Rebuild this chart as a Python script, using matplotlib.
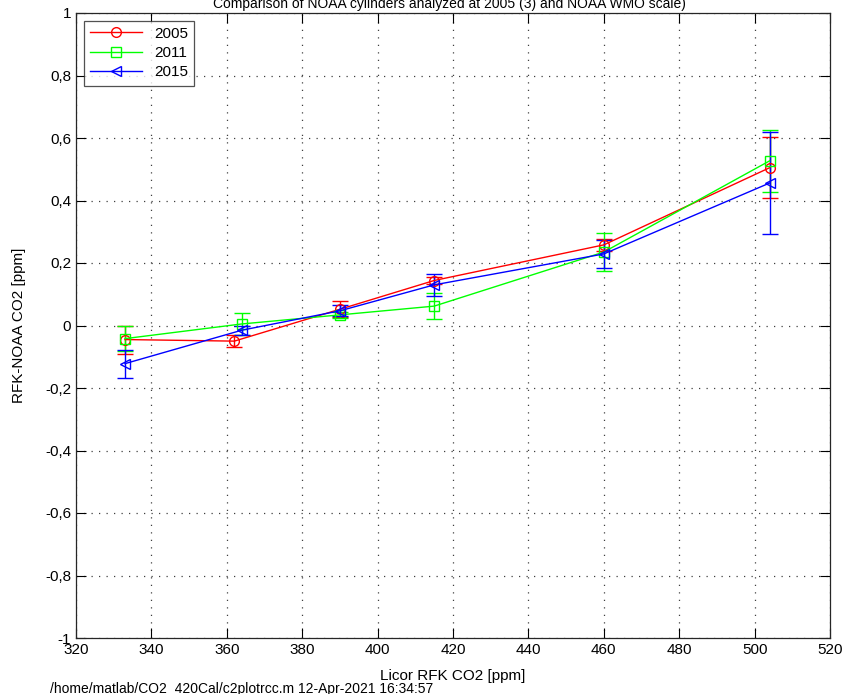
import numpy as np
import matplotlib
matplotlib.use('Agg')
import matplotlib.pyplot as plt

# values
anos = ['2005', '2011', '2015']
cores = ['#ff0000', '#00ff00', '#0000ff']
marcadores = ['o', 's', '<']

x_2005 = [333, 362, 390, 415, 460, 504]
y_2005 = [-0.045, -0.050, 0.052, 0.144, 0.258, 0.505]
e_2005 = [0.045, 0.020, 0.025, 0.010, 0.020, 0.097]

x_2011 = [333, 364, 390, 415, 460, 504]
y_2011 = [-0.042, 0.005, 0.034, 0.062, 0.235, 0.527]
e_2011 = [0.040, 0.035, 0.010, 0.042, 0.060, 0.100]

x_2015 = [333, 364, 390, 415, 460, 504]
y_2015 = [-0.122, -0.015, 0.047, 0.130, 0.229, 0.456]
e_2015 = [0.045, 0.015, 0.018, 0.035, 0.045, 0.163]

xticks = np.arange(320, 521, 20)
yticks = np.round(np.arange(-1, 1.01, 0.2), 1) + 0.0
ylabels = [('%g' % v).replace('.', ',') if abs(v) > 1e-9 else '0' for v in yticks]

plt.rcParams['font.family'] = ['Liberation Sans', 'DejaVu Sans']

fig = plt.figure(figsize=(8.43, 6.94), dpi=100)
ax = fig.add_axes([76 / 843, 56 / 694, 754 / 843, 625 / 694])

series = [(x_2005, y_2005, e_2005), (x_2011, y_2011, e_2011), (x_2015, y_2015, e_2015)]
for (xs, ys, es), ano, cor, m in zip(series, anos, cores, marcadores):
    ax.errorbar(xs, ys, yerr=es, color=cor, linewidth=1.0, elinewidth=1.0,
                capsize=6, capthick=1.0, marker=m, markersize=7,
                markerfacecolor='none', markeredgecolor=cor, markeredgewidth=1.0,
                label=ano)

ax.set_xlim(320, 520)
ax.set_ylim(-1, 1)
ax.set_xticks(xticks)
ax.set_xticklabels([str(v) for v in xticks], fontsize=11)
ax.set_yticks(yticks)
ax.set_yticklabels(ylabels, fontsize=11)
ax.tick_params(direction='in', length=7, top=True, right=True, width=0.8)
ax.grid(True, color='0.25', linestyle=(0, (1, 5)), linewidth=0.9)
for s in ax.spines.values():
    s.set_linewidth(0.9)
    s.set_color('0.15')

ax.set_xlabel('Licor RFK CO2 [ppm]', fontsize=11, labelpad=9)
ax.set_ylabel('RFK-NOAA CO2 [ppm]', fontsize=11, labelpad=14)

# legenda
handles, labels = ax.get_legend_handles_labels()
handles = [h[0] for h in handles]
leg = ax.legend(handles, labels, loc='upper left', fontsize=11, frameon=True,
                fancybox=False, edgecolor='0.15', borderaxespad=0.5,
                handlelength=3.4, labelspacing=0.35, borderpad=0.4)
leg.get_frame().set_linewidth(0.9)

# title and footer sit on the figure edges, as in the reference
fig.text(0.533, 1 - 4 / 694, 'Comparison of NOAA cylinders analyzed at 2005 (3) and NOAA WMO scale)',
         ha='center', va='center', fontsize=10)
fig.text(50 / 843, 12 / 694, '/home/matlab/CO2_420Cal/c2plotrcc.m 12-Apr-2021 16:34:57',
         ha='left', va='top', fontsize=10)

fig.savefig('out.png', dpi=100, facecolor='white')
